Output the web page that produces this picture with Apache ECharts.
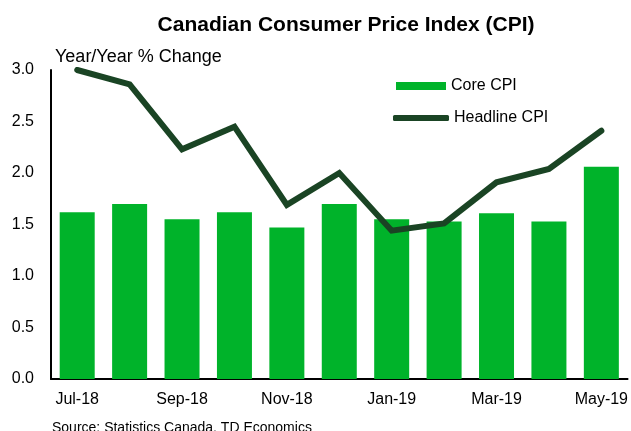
<!DOCTYPE html>
<html>
<head>
<meta charset="utf-8">
<script src="https://cdn.jsdelivr.net/npm/echarts@6/dist/echarts.min.js"></script>
<style>
    html, body { margin: 0; padding: 0; background: #fff; }
    #cpi { width: 631px; height: 431px; }
</style>
</head>
<body>
<div id="cpi"></div>
<script>
var months = ["Jul-18", "Aug-18", "Sep-18", "Oct-18", "Nov-18", "Dec-18", "Jan-19", "Feb-19", "Mar-19", "Apr-19", "May-19"];
var coreCpi = [1.62, 1.70, 1.55, 1.62, 1.47, 1.70, 1.55, 1.53, 1.61, 1.53, 2.06];
var headlineCpi = [3.0, 2.86, 2.23, 2.45, 1.69, 2.0, 1.44, 1.51, 1.91, 2.04, 2.41];
var yTicks = [0, 0.5, 1.0, 1.5, 2.0, 2.5, 3.0];

var font = "Liberation Sans, Arial, sans-serif";
var chart = echarts.init(document.getElementById("cpi"));
var option = {
    animation: false,
    backgroundColor: "#fff",
    title: [{
        text: "Canadian Consumer Price Index (CPI)",
        left: 341,
        top: 10,
        textAlign: "center",
        textStyle: {fontFamily: font, fontSize: 21, fontWeight: "bold", color: "#000"}
    }, {
        text: "Year/Year % Change",
        left: 50,
        top: 43,
        textStyle: {fontFamily: font, fontSize: 18, fontWeight: "normal", color: "#000"}
    }, {
        text: "Source: Statistics Canada, TD Economics",
        left: 47,
        top: 416,
        textStyle: {fontFamily: font, fontSize: 14, fontWeight: "normal", color: "#000"}
    }],
    legend: [{
        data: [{name: "Core CPI", icon: "rect"}],
        left: 396,
        top: 78,
        padding: 0,
        itemWidth: 50,
        itemHeight: 8,
        itemGap: 6,
        textStyle: {fontFamily: font, fontSize: 16, color: "#000"}
    }, {
        data: [{name: "Headline CPI", icon: "roundRect"}],
        left: 393,
        top: 110,
        padding: 0,
        itemWidth: 56,
        itemHeight: 6,
        itemGap: 3,
        textStyle: {fontFamily: font, fontSize: 16, color: "#000"}
    }],
    grid: {left: 51, right: 3, top: 70, bottom: 52},
    xAxis: {
        type: "category",
        data: months,
        axisLine: {lineStyle: {color: "#000", width: 2}},
        axisTick: {show: false},
        axisLabel: {
            interval: 1,
            margin: 13,
            fontFamily: font,
            fontSize: 16,
            color: "#000"
        }
    },
    yAxis: {
        type: "value",
        min: yTicks[0],
        max: yTicks[yTicks.length - 1],
        interval: 0.5,
        axisLine: {show: true, lineStyle: {color: "#000", width: 2}},
        axisTick: {show: false},
        splitLine: {show: false},
        axisLabel: {
            margin: 17,
            fontFamily: font,
            fontSize: 16,
            color: "#000",
            formatter: function (v) { return v.toFixed(1); }
        }
    },
    series: [{
        name: "Core CPI",
        type: "bar",
        data: coreCpi,
        barWidth: 35,
        itemStyle: {color: "#00b32a"}
    }, {
        name: "Headline CPI",
        type: "line",
        data: headlineCpi,
        symbol: "none",
        lineStyle: {color: "#1a4424", width: 6, cap: "round", join: "miter"},
        itemStyle: {color: "#1a4424"}
    }]
};
chart.setOption(option);
</script>
</body>
</html>
